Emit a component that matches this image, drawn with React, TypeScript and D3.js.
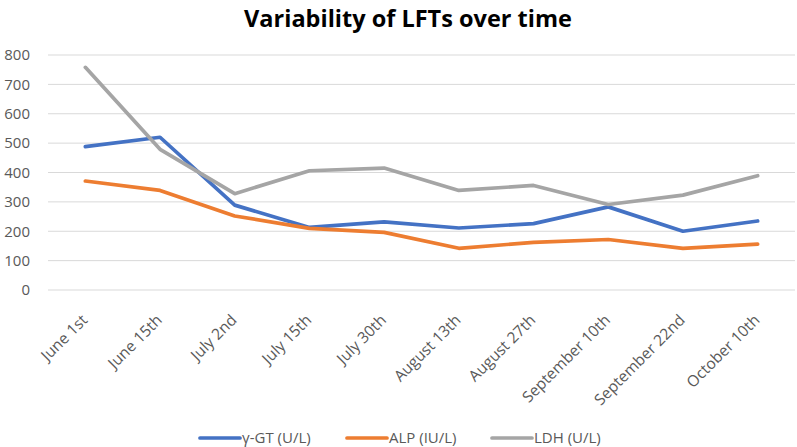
import React from "react";
import * as d3 from "d3";

const categories = [
  "June 1st",
  "June 15th",
  "July 2nd",
  "July 15th",
  "July 30th",
  "August 13th",
  "August 27th",
  "September 10th",
  "September 22nd",
  "October 10th",
];
const ggtValues = [488, 520, 289, 213, 232, 211, 226, 283, 200, 235];
const alpValues = [371, 339, 252, 210, 196, 142, 162, 172, 142, 156];
const ldhValues = [758, 479, 328, 406, 415, 339, 356, 291, 323, 389];
const yTicks = [0, 100, 200, 300, 400, 500, 600, 700, 800];

const seriesNames = ["γ-GT (U/L)", "ALP (IU/L)", "LDH (U/L)"];
const seriesColors = ["#4472C4", "#ED7D31", "#A5A5A5"];

const W = 797;
const H = 447;
const FONT = "'Open Sans', 'Liberation Sans', sans-serif";

export default function App() {
  const x = d3.scaleBand<string>().domain(categories).range([48, 795]);
  const y = d3.scaleLinear().domain([0, 800]).range([290, 55]);
  const cx = (c: string) => (x(c) as number) + x.bandwidth() / 2;

  const series = [ggtValues, alpValues, ldhValues];
  const line = d3
    .line<number>()
    .x((_, i) => cx(categories[i]))
    .y((d) => y(d));

  const legendX = [200, 347, 492];

  return (
    <svg
      width={W}
      height={H}
      style={{ position: "absolute", left: 0, top: 0, background: "#fff" }}
      fontFamily={FONT}
    >
      <rect x={0} y={0} width={W} height={H} fill="#fff" />
      <text
        x={408}
        y={27}
        textAnchor="middle"
        fontSize={23.5}
        fontWeight="bold"
        fill="#000"
      >
        Variability of LFTs over time
      </text>

      {yTicks.map((t) => (
        <g key={t}>
          <line
            x1={48}
            x2={795}
            y1={y(t)}
            y2={y(t)}
            stroke="#d9d9d9"
            strokeWidth={1}
          />
          <text
            x={30}
            y={y(t)}
            dy="0.35em"
            textAnchor="end"
            fontSize={15}
            fill="#595959"
          >
            {t}
          </text>
        </g>
      ))}

      {categories.map((c) => (
        <text
          key={c}
          transform={`translate(${cx(c) + 3},${321}) rotate(-45)`}
          textAnchor="end"
          fontSize={15.5}
          fill="#595959"
        >
          {c}
        </text>
      ))}

      {series.map((s, i) => (
        <path
          key={i}
          d={line(s) as string}
          fill="none"
          stroke={seriesColors[i]}
          strokeWidth={3.7}
          strokeLinejoin="round"
          strokeLinecap="round"
        />
      ))}

      {seriesNames.map((n, i) => (
        <g key={n}>
          <line
            x1={legendX[i]}
            x2={legendX[i] + 40}
            y1={438}
            y2={438}
            stroke={seriesColors[i]}
            strokeWidth={3.7}
            strokeLinecap="round"
          />
          <text
            x={legendX[i] + 42}
            y={438}
            dy="0.35em"
            fontSize={15}
            fill="#595959"
          >
            {n}
          </text>
        </g>
      ))}
    </svg>
  );
}
